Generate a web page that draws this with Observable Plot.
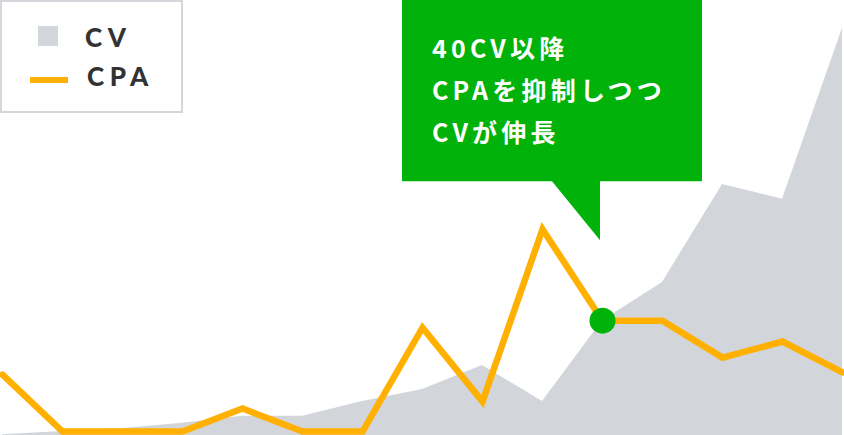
<!DOCTYPE html>
<html>
<head>
<meta charset="utf-8">
<script src="https://cdn.jsdelivr.net/npm/d3@7"></script>
<script src="https://cdn.jsdelivr.net/npm/@observablehq/plot@0.6"></script>
<style>
  html, body { margin: 0; padding: 0; background: #fff; }
  #wrap { position: relative; width: 844px; height: 435px; overflow: hidden; }
  #legend {
    position: absolute; left: 0; top: 0; width: 183px; height: 113px;
    box-sizing: border-box; border: 2.5px solid #D3D7DB; background: #fff;
    font-family: Lato, "DejaVu Sans", sans-serif; font-weight: 900; color: #333;
  }
  #legend .sw { position: absolute; }
  #legend .lab { position: absolute; font-size: 26px; letter-spacing: 5.5px; line-height: 1; }
</style>
</head>
<body>
<div id="wrap">
  <div id="chart"></div>
  <div id="legend"></div>
</div>
<script>
// ---- data ----
const periods = [1, 2, 3, 4, 5, 6, 7, 8, 9, 10, 11, 12, 13, 14, 15];
const cvValues  = [0.2, 0.9, 1.6, 2.8, 4.4, 4.4, 7.8, 10.6, 16.1, 7.8, 26.4, 35.2, 57.7, 54.3, 93.6];
const cpaValues = [14.0, 0.9, 0.9, 0.9, 6.2, 0.9, 0.9, 24.8, 7.8, 47.4, 26.4, 26.4, 17.9, 21.6, 14.5];
const seriesNames = ["CV", "CPA"];
const highlightPeriod = 11;
const calloutLines = ["40CV以降", "CPAを抑制しつつ", "CVが伸長"];

const colors = { CV: "#D2D5D9", CPA: "#FFB000", accent: "#00B20A" };

const data = periods.map((p, i) => ({ period: p, cv: cvValues[i], cpa: cpaValues[i] }));
const highlight = data.filter(d => d.period === highlightPeriod);

const chart = Plot.plot({
  width: 844,
  height: 435,
  marginLeft: 2,
  marginRight: 2,
  marginTop: 0,
  marginBottom: 0,
  x: { domain: [1, 15], axis: null },
  y: { domain: [0, 100], axis: null },
  marks: [
    Plot.areaY(data, { x: "period", y: "cv", fill: colors.CV }),
    Plot.lineY(data, { x: "period", y: "cpa", stroke: colors.CPA, strokeWidth: 6.5, strokeLinejoin: "miter", strokeMiterlimit: 10 }),
    Plot.dot(highlight, { x: "period", y: "cpa", r: 13, fill: colors.accent, stroke: null })
  ]
});
document.getElementById("chart").appendChild(chart);

// ---- callout anchored to the highlighted point ----
const px = chart.scale("x").apply(highlightPeriod);
const py = chart.scale("y").apply(highlight[0].cpa);
const tipX = px - 2, tipY = py - 80;
const boxL = tipX - 198, boxR = tipX + 102, boxT = 0, boxB = tipY - 59;
const svg = d3.select(chart);
svg.append("path")
  .attr("d", `M${boxL},${boxT}H${boxR}V${boxB}H${tipX}V${tipY}L${tipX - 48},${boxB}H${boxL}Z`)
  .attr("fill", colors.accent);
const txt = svg.append("g")
  .attr("font-family", '"Noto Sans CJK JP", "Noto Sans", sans-serif')
  .attr("font-weight", 700)
  .attr("font-size", 25)
  .attr("letter-spacing", "4.2px")
  .attr("text-anchor", "start")
  .attr("fill", "#fff");
calloutLines.forEach((s, i) => {
  txt.append("text").attr("x", boxL + 30).attr("y", 58 + i * 42).text(s);
});

// ---- legend ----
const legend = d3.select("#legend");
legend.append("div").attr("class", "sw")
  .style("left", "36px").style("top", "24px").style("width", "20px").style("height", "20px")
  .style("background", colors.CV);
legend.append("div").attr("class", "lab")
  .style("left", "83px").style("top", "22px").text(seriesNames[0]);
legend.append("div").attr("class", "sw")
  .style("left", "28px").style("top", "75px").style("width", "38px").style("height", "6px")
  .style("background", colors.CPA);
legend.append("div").attr("class", "lab")
  .style("left", "85px").style("top", "61px").text(seriesNames[1]);
</script>
</body>
</html>
